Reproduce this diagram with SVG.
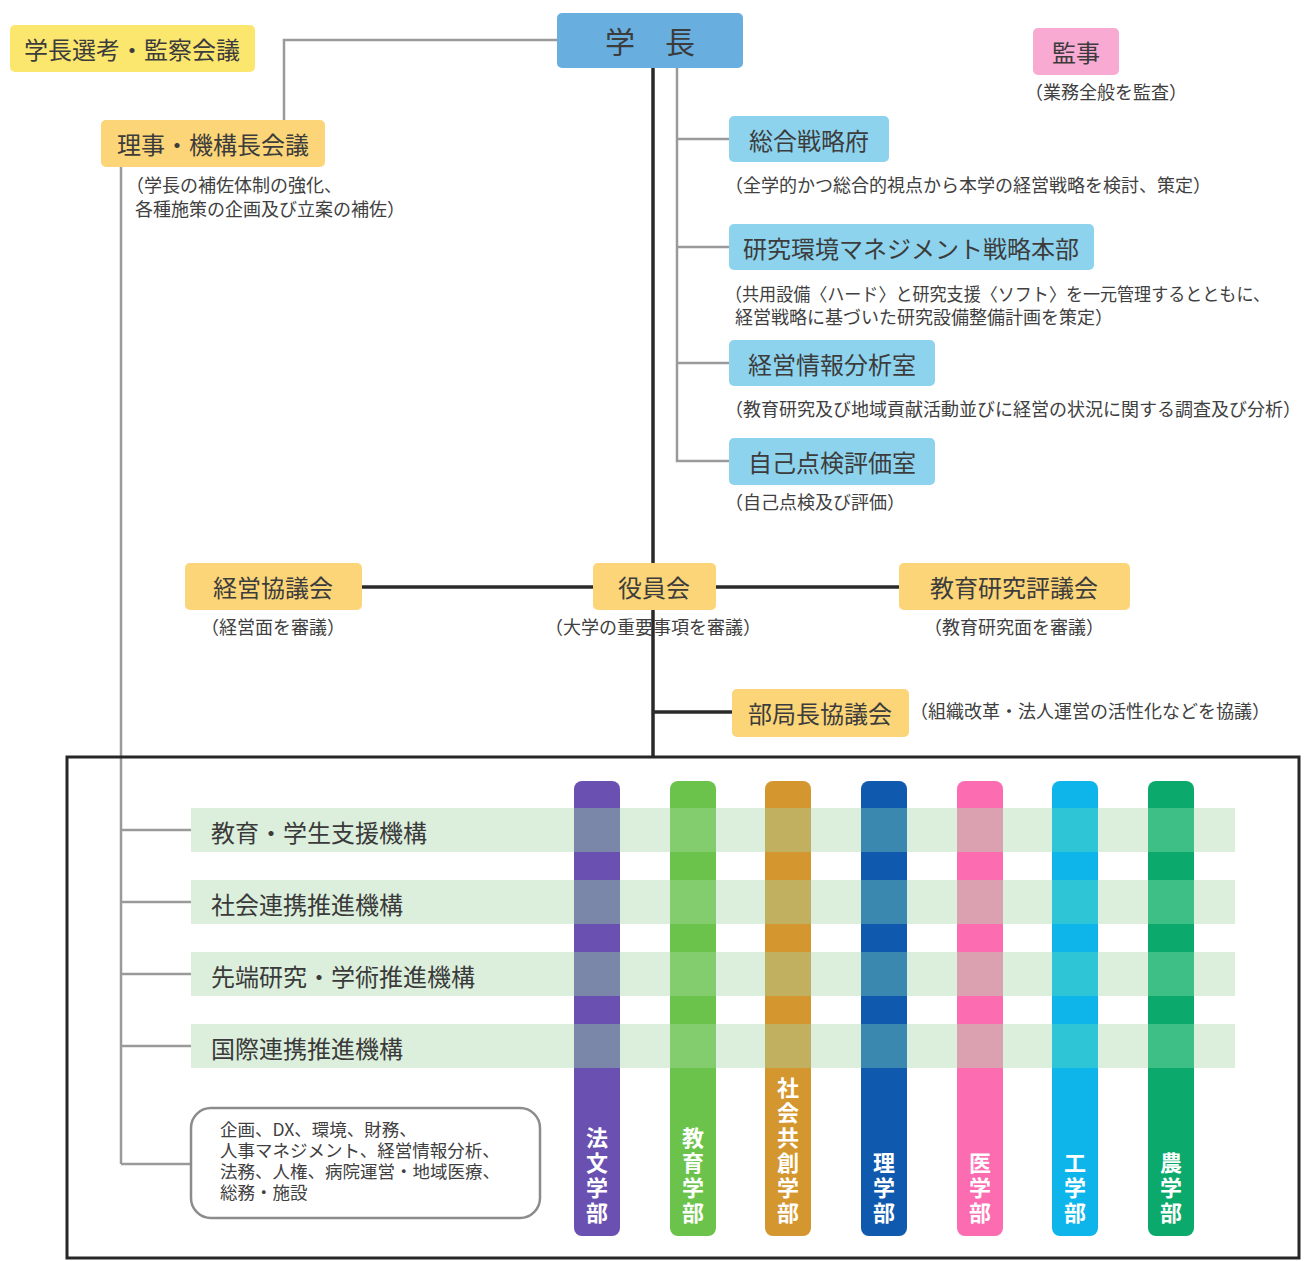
<svg xmlns="http://www.w3.org/2000/svg" width="1315" height="1261" viewBox="0 0 1315 1261">
<style>
text{font-family:"Noto Sans CJK JP","Noto Sans",sans-serif;fill:#3a3a3a}
.lbl{font-size:24px;text-anchor:middle;dominant-baseline:central;fill:#3c3c3c}
.sub{font-size:18px;fill:#404040}
.box{font-size:17.5px;fill:#404040}
.band{font-size:24px;dominant-baseline:central;fill:#3a3a3a}
.fac{font-size:22px;font-weight:bold;fill:#fff;text-anchor:end;writing-mode:vertical-rl;letter-spacing:3px}
.gray{stroke:#9a9a9a;stroke-width:2.5;fill:none}
.blk{stroke:#2a2a2a;stroke-width:3.5;fill:none}
.yel{fill:#fbd578}
.blu{fill:#8dd3ee}
</style>
<rect width="1315" height="1261" fill="#fff"/>
<g id="connectors">
<polyline class="gray" points="557,40 284,40 284,120"/>
<line class="gray" x1="121" y1="167" x2="121" y2="1164"/>
<line class="gray" x1="121" y1="830" x2="191" y2="830"/>
<line class="gray" x1="121" y1="902" x2="191" y2="902"/>
<line class="gray" x1="121" y1="974" x2="191" y2="974"/>
<line class="gray" x1="121" y1="1046" x2="191" y2="1046"/>
<line class="gray" x1="121" y1="1164" x2="191" y2="1164"/>
<polyline class="gray" points="677,68 677,461 729,461"/>
<line class="gray" x1="677" y1="139" x2="729" y2="139"/>
<line class="gray" x1="677" y1="247" x2="729" y2="247"/>
<line class="gray" x1="677" y1="363" x2="729" y2="363"/>
<line class="blk" x1="653" y1="68" x2="653" y2="563"/>
<line class="blk" x1="653" y1="610" x2="653" y2="757"/>
<line class="blk" x1="362" y1="587" x2="593" y2="587"/>
<line class="blk" x1="716" y1="587" x2="899" y2="587"/>
<line class="blk" x1="653" y1="712" x2="732" y2="712"/>
</g>
<g id="n-senkou"><rect x="10" y="25" width="245" height="47" rx="5" fill="#fce76e"/><text class="lbl" x="132" y="48">学長選考・監察会議</text></g>
<g id="n-gakucho"><rect x="557" y="13" width="186" height="55" rx="5" fill="#68afe0"/><text class="lbl" x="650" y="40" style="font-size:30px">学　長</text></g>
<g id="n-kanji"><rect x="1033" y="28" width="86" height="47" rx="5" fill="#f8aad2"/><text class="lbl" x="1076" y="51">監事</text><text class="sub" x="1025" y="99">（業務全般を監査）</text></g>
<g id="n-riji"><rect x="101" y="120" width="224" height="47" rx="5" class="yel"/><text class="lbl" x="213" y="143">理事・機構長会議</text><text class="sub" x="126" y="192">（学長の補佐体制の強化、</text><text class="sub" x="135" y="216">各種施策の企画及び立案の補佐）</text></g>
<g id="n-sogo"><rect x="729" y="116" width="160" height="46" rx="5" class="blu"/><text class="lbl" x="809" y="139">総合戦略府</text><text class="sub" x="725" y="192">（全学的かつ総合的視点から本学の経営戦略を検討、策定）</text></g>
<g id="n-kenkyu"><rect x="729" y="224" width="365" height="46" rx="5" class="blu"/><text class="lbl" x="911" y="247">研究環境マネジメント戦略本部</text><text class="sub" x="725" y="301" textLength="545" lengthAdjust="spacingAndGlyphs">（共用設備〈ハード〉と研究支援〈ソフト〉を一元管理するとともに、</text><text class="sub" x="735" y="324">経営戦略に基づいた研究設備整備計画を策定）</text></g>
<g id="n-keiei-joho"><rect x="729" y="340" width="206" height="46" rx="5" class="blu"/><text class="lbl" x="832" y="363">経営情報分析室</text><text class="sub" x="725" y="416">（教育研究及び地域貢献活動並びに経営の状況に関する調査及び分析）</text></g>
<g id="n-jiko"><rect x="729" y="438" width="206" height="47" rx="5" class="blu"/><text class="lbl" x="832" y="461">自己点検評価室</text><text class="sub" x="725" y="509">（自己点検及び評価）</text></g>
<g id="n-keiei-kyogi"><rect x="185" y="563" width="177" height="47" rx="5" class="yel"/><text class="lbl" x="273" y="586">経営協議会</text><text class="sub" x="273" y="634" text-anchor="middle">（経営面を審議）</text></g>
<g id="n-yakuin"><rect x="593" y="563" width="123" height="47" rx="5" class="yel"/><text class="lbl" x="654" y="586">役員会</text><text class="sub" x="653" y="634" text-anchor="middle">（大学の重要事項を審議）</text></g>
<g id="n-kyoiku-hyogi"><rect x="899" y="563" width="231" height="47" rx="5" class="yel"/><text class="lbl" x="1014" y="586">教育研究評議会</text><text class="sub" x="1014" y="634" text-anchor="middle">（教育研究面を審議）</text></g>
<g id="n-bukyoku"><rect x="732" y="689" width="177" height="48" rx="5" class="yel"/><text class="lbl" x="820" y="712">部局長協議会</text><text class="sub" x="910" y="718">（組織改革・法人運営の活性化などを協議）</text></g>
<g id="n-frame"><rect x="67" y="757" width="1232" height="501" fill="none" stroke="#262626" stroke-width="3"/></g>
<g id="bands" fill="#dcefdc">
<rect x="191" y="808" width="1044" height="44"/>
<rect x="191" y="880" width="1044" height="44"/>
<rect x="191" y="952" width="1044" height="44"/>
<rect x="191" y="1024" width="1044" height="44"/>
</g>
<g id="n-hobun"><rect x="574" y="781" width="46" height="455" rx="8" fill="#6a51b1"/><g fill="#7b87a9"><rect x="574" y="808" width="46" height="44"/><rect x="574" y="880" width="46" height="44"/><rect x="574" y="952" width="46" height="44"/><rect x="574" y="1024" width="46" height="44"/></g><text class="fac" x="597" y="1227">法文学部</text></g>
<g id="n-kyoiku"><rect x="670" y="781" width="46" height="455" rx="8" fill="#6cc34b"/><g fill="#83cd6e"><rect x="670" y="808" width="46" height="44"/><rect x="670" y="880" width="46" height="44"/><rect x="670" y="952" width="46" height="44"/><rect x="670" y="1024" width="46" height="44"/></g><text class="fac" x="693" y="1227">教育学部</text></g>
<g id="n-shakai"><rect x="765" y="781" width="46" height="455" rx="8" fill="#d4972f"/><g fill="#c0b05f"><rect x="765" y="808" width="46" height="44"/><rect x="765" y="880" width="46" height="44"/><rect x="765" y="952" width="46" height="44"/><rect x="765" y="1024" width="46" height="44"/></g><text class="fac" x="788" y="1227">社会共創学部</text></g>
<g id="n-ri"><rect x="861" y="781" width="46" height="455" rx="8" fill="#0f5aae"/><g fill="#3a88b0"><rect x="861" y="808" width="46" height="44"/><rect x="861" y="880" width="46" height="44"/><rect x="861" y="952" width="46" height="44"/><rect x="861" y="1024" width="46" height="44"/></g><text class="fac" x="884" y="1227">理学部</text></g>
<g id="n-i"><rect x="957" y="781" width="46" height="455" rx="8" fill="#fb6cb1"/><g fill="#dba1b1"><rect x="957" y="808" width="46" height="44"/><rect x="957" y="880" width="46" height="44"/><rect x="957" y="952" width="46" height="44"/><rect x="957" y="1024" width="46" height="44"/></g><text class="fac" x="980" y="1227">医学部</text></g>
<g id="n-ko"><rect x="1052" y="781" width="46" height="455" rx="8" fill="#0db5eb"/><g fill="#2ec5d6"><rect x="1052" y="808" width="46" height="44"/><rect x="1052" y="880" width="46" height="44"/><rect x="1052" y="952" width="46" height="44"/><rect x="1052" y="1024" width="46" height="44"/></g><text class="fac" x="1075" y="1227">工学部</text></g>
<g id="n-no"><rect x="1148" y="781" width="46" height="455" rx="8" fill="#0ba96b"/><g fill="#3dbf85"><rect x="1148" y="808" width="46" height="44"/><rect x="1148" y="880" width="46" height="44"/><rect x="1148" y="952" width="46" height="44"/><rect x="1148" y="1024" width="46" height="44"/></g><text class="fac" x="1171" y="1227">農学部</text></g>
<g id="n-kikou1"><text class="band" x="211" y="831">教育・学生支援機構</text></g>
<g id="n-kikou2"><text class="band" x="211" y="903">社会連携推進機構</text></g>
<g id="n-kikou3"><text class="band" x="211" y="975">先端研究・学術推進機構</text></g>
<g id="n-kikou4"><text class="band" x="211" y="1047">国際連携推進機構</text></g>
<g id="n-jimu"><rect x="191" y="1108" width="349" height="110" rx="20" fill="#fff" stroke="#8c8c8c" stroke-width="2.5"/><text class="box" x="220" y="1136">企画、DX、環境、財務、</text><text class="box" x="220" y="1157">人事マネジメント、経営情報分析、</text><text class="box" x="220" y="1178">法務、人権、病院運営・地域医療、</text><text class="box" x="220" y="1199">総務・施設</text></g>
</svg>
